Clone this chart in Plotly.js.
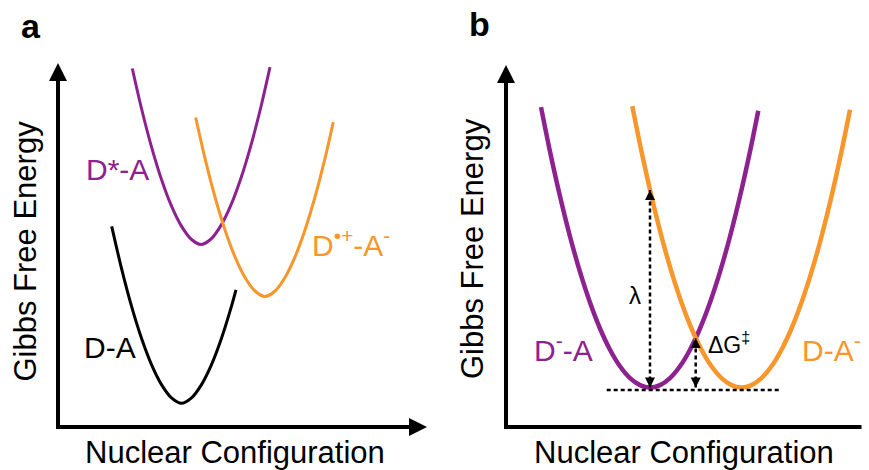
<!DOCTYPE html>
<html>
<head>
<meta charset="utf-8">
<script src="https://cdn.plot.ly/plotly-3.0.1.min.js"></script>
<style>
  html, body { margin: 0; padding: 0; background: #ffffff; }
  #chart { width: 869px; height: 470px; }
</style>
</head>
<body>
<div id="chart"></div>
<script>
// ---- Data (arbitrary units: nuclear coordinate q, Gibbs free energy G) ----

// Panel a: ground state D-A, excited state D*-A, charge-separated state
const aGroundQ  = [5.37, 6.35, 7.35, 8.35, 9.35, 10.35, 11.35, 12.35, 13.35, 14.35, 15.35, 16.35, 17.35, 17.8];
const aGroundG  = [20.07, 15.86, 12.08, 8.87, 6.24, 4.24, 2.91, 2.37, 2.91, 4.24, 6.24, 8.87, 12.08, 13.71];
const aExcitedQ = [7.43, 8.3, 9.3, 10.3, 11.3, 12.3, 13.3, 14.3, 15.3, 16.3, 17.3, 18.3, 19.3, 20.3, 21.2];
const aExcitedG = [35.85, 32.05, 28.19, 24.9, 22.21, 20.16, 18.8, 18.25, 18.8, 20.16, 22.21, 24.9, 28.19, 32.05, 35.99];
const aCsQ      = [13.77, 14.7, 15.7, 16.7, 17.7, 18.7, 19.7, 20.7, 21.7, 22.7, 23.7, 24.7, 25.7, 26.7, 27.53];
const aCsG      = [30.95, 26.86, 23.0, 19.71, 17.02, 14.96, 13.6, 13.05, 13.6, 14.96, 17.02, 19.71, 23.0, 26.86, 30.49];

// Panel b: reactant (D−-A) and product (D-A−) parabolas
const bReactQ = [3.5, 4.4, 5.4, 6.4, 7.4, 8.4, 9.4, 10.4, 11.4, 12.4, 13.4, 14.4,
                 15.4, 16.4, 17.4, 18.4, 19.4, 20.4, 21.4, 22.4, 23.4, 24.4, 25.23];
const bReactG = [31.99, 27.55, 23.07, 19.05, 15.51, 12.45, 9.85, 7.73, 6.07, 4.89, 4.19, 3.95,
                 4.19, 4.89, 6.07, 7.73, 9.85, 12.45, 15.51, 19.05, 23.07, 27.55, 31.63];
const bProdQ  = [12.63, 13.55, 14.55, 15.55, 16.55, 17.55, 18.55, 19.55, 20.55, 21.55, 22.55, 23.55,
                 24.55, 25.55, 26.55, 27.55, 28.55, 29.55, 30.55, 31.55, 32.55, 33.55, 34.4];
const bProdG  = [32.09, 27.55, 23.07, 19.05, 15.51, 12.45, 9.85, 7.73, 6.07, 4.89, 4.19, 3.95,
                 4.19, 4.89, 6.07, 7.73, 9.85, 12.45, 15.51, 19.05, 23.07, 27.55, 31.73];

// Energy markers in panel b
const baselineQ = [10.07, 27.57];   // reference level through the minima
const baselineG = [3.7, 3.7];
const lambdaQ   = [14.4, 14.4];     // reorganisation energy λ
const lambdaG   = [3.95, 23.7];
const barrierQ  = [18.97, 18.97];   // activation barrier ΔG‡
const barrierG  = [3.95, 8.9];

// Text
const panelLetters = ['a', 'b'];
const xTitle = 'Nuclear Configuration';
const yTitle = 'Gibbs Free Energy';
const aLabels = ['D*-A', 'D<sup>•+</sup>-A<sup>-</sup>', 'D-A'];
const bLabels = ['D<sup>-</sup>-A', 'D-A<sup>-</sup>', 'λ', 'ΔG<sup>‡</sup>'];

// ---- Styling ----
const FONT = 'Liberation Sans, Arial, Helvetica, sans-serif';
const PURPLE = '#8E2190';
const ORANGE = '#F7962B';
const INK = '#000000';

// Axis frames (arrow tips) of the two panels, in each panel's units
const frameA = { qTip: 36.9, gTip: 36.4 };
const frameB = { qTip: 36.55, gTip: 36.2 };

const A = ['x', 'y'];
const B = ['x2', 'y2'];

function curve(q, g, color, width, axes) {
  return {
    type: 'scatter', mode: 'lines', x: q, y: g,
    xaxis: axes[0], yaxis: axes[1],
    line: { color: color, width: width, shape: 'spline', smoothing: 0.8 },
    hoverinfo: 'skip', showlegend: false
  };
}

function dashed(q, g, axes) {
  return {
    type: 'scatter', mode: 'lines', x: q, y: g,
    xaxis: axes[0], yaxis: axes[1],
    line: { color: INK, width: 2.5, dash: '4px,3px' },
    hoverinfo: 'skip', showlegend: false
  };
}

function solid(q, g, width, axes) {
  return {
    type: 'scatter', mode: 'lines', x: q, y: g,
    xaxis: axes[0], yaxis: axes[1],
    line: { color: INK, width: width },
    hoverinfo: 'skip', showlegend: false
  };
}

// Arrowheads whose tips sit exactly on the given points
function heads(q, g, symbols, size, axes) {
  return {
    type: 'scatter', mode: 'markers', x: q, y: g,
    xaxis: axes[0], yaxis: axes[1], cliponaxis: false,
    marker: { symbol: symbols, size: size, color: INK, line: { width: 0 } },
    hoverinfo: 'skip', showlegend: false
  };
}

// Axis arrows: shaft stops inside the head so the tip stays sharp
function axisArrows(frame, axes) {
  return [
    solid([0, 0], [-0.2, frame.gTip - 1.0], 4, axes),
    solid([-0.2, frame.qTip - 1.0], [0, 0], 4, axes),
    heads([0, frame.qTip], [frame.gTip, 0], ['arrow-up', 'arrow-right'], 18, axes)
  ];
}

const traces = [
  curve(aGroundQ, aGroundG, INK, 3, A),
  curve(aExcitedQ, aExcitedG, PURPLE, 3, A),
  curve(aCsQ, aCsG, ORANGE, 3, A),
  curve(bReactQ, bReactG, PURPLE, 4.5, B),
  curve(bProdQ, bProdG, ORANGE, 4.5, B),
  dashed(baselineQ, baselineG, B),
  dashed(lambdaQ, lambdaG, B),
  dashed(barrierQ, barrierG, B),
  heads(lambdaQ, lambdaG, ['arrow-down', 'arrow-up'], 10, B),
  heads(barrierQ, barrierG, ['arrow-down', 'arrow-up'], 10, B)
].concat(axisArrows(frameA, A), axisArrows(frameB, B));

function label(xr, yr, x, y, text, color, size, anchor) {
  return {
    xref: xr, yref: yr, x: x, y: y, text: text, showarrow: false,
    xanchor: anchor || 'left', yanchor: 'middle',
    font: { family: FONT, size: size, color: color }
  };
}

function paperText(px, py, text, size, opts) {
  return Object.assign({
    xref: 'paper', yref: 'paper', x: px / 869, y: (470 - py) / 470,
    text: text, showarrow: false, xanchor: 'center', yanchor: 'middle',
    font: { family: FONT, size: size, color: INK }
  }, opts || {});
}

const annotations = [
  // state labels
  label('x', 'y', 2.6, 25.75, aLabels[0], PURPLE, 30),
  label('x', 'y', 25.2, 18.4, aLabels[1], ORANGE, 30),
  label('x', 'y', 2.4, 8.0, aLabels[2], INK, 30),
  label('x2', 'y2', 2.6, 7.95, bLabels[0], PURPLE, 30),
  label('x2', 'y2', 29.4, 7.9, bLabels[1], ORANGE, 30),
  label('x2', 'y2', 12.9, 13.2, bLabels[2], INK, 24, 'center'),
  label('x2', 'y2', 20.0, 8.4, bLabels[3], INK, 23),

  // axis titles
  paperText(24.5, 251, yTitle, 31, { textangle: -90 }),
  paperText(235, 452, xTitle, 31),
  paperText(473, 249, yTitle, 31, { textangle: -90 }),
  paperText(684, 452, xTitle, 31),

  // panel letters
  paperText(31, 25.5, '<b>' + panelLetters[0] + '</b>', 34),
  paperText(479, 23.5, '<b>' + panelLetters[1] + '</b>', 34)
];

const hiddenAxis = { visible: false, fixedrange: true };

const layout = {
  width: 869, height: 470,
  margin: { l: 0, r: 0, t: 0, b: 0 },
  paper_bgcolor: '#ffffff', plot_bgcolor: 'rgba(0,0,0,0)',
  showlegend: false,
  xaxis:  Object.assign({ domain: [0, 0.5], range: [-5.8, 37.65], anchor: 'y' }, hiddenAxis),
  yaxis:  Object.assign({ domain: [0, 1], range: [-4.3, 42.7], anchor: 'x' }, hiddenAxis),
  xaxis2: Object.assign({ domain: [0.5, 1], range: [-7.15, 36.3], anchor: 'y2' }, hiddenAxis),
  yaxis2: Object.assign({ domain: [0, 1], range: [-4.3, 42.7], anchor: 'x2' }, hiddenAxis),
  annotations: annotations
};

Plotly.newPlot('chart', traces, layout, { staticPlot: true, displayModeBar: false });
</script>
</body>
</html>
